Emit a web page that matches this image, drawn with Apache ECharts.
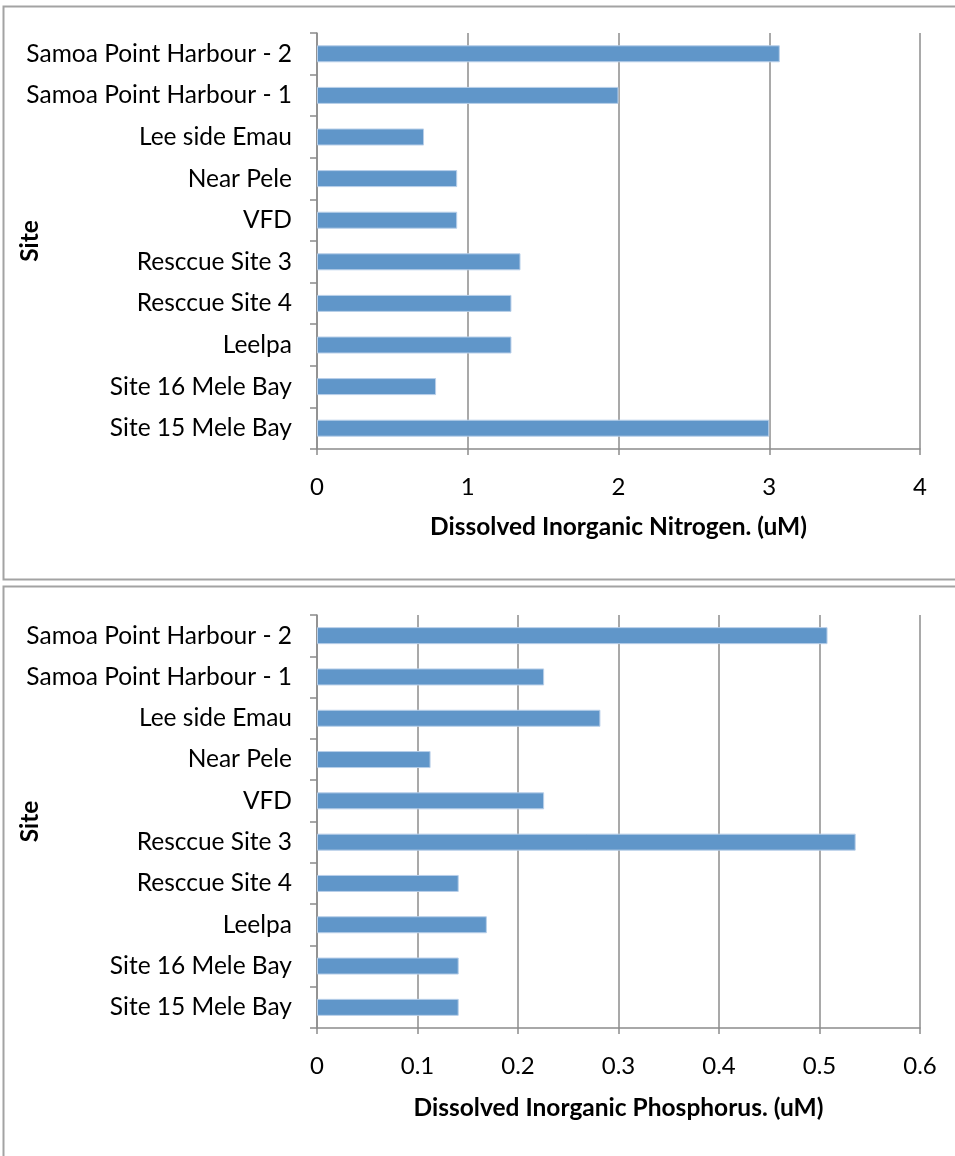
<!DOCTYPE html>
<html>
<head>
<meta charset="utf-8">
<title>Dissolved inorganic nutrients by site</title>
<script src="https://cdn.jsdelivr.net/npm/echarts@6/dist/echarts.min.js"></script>
<style>
  html, body { margin: 0; padding: 0; background: #ffffff; }
  #chart { width: 955px; height: 1156px; }
</style>
</head>
<body>
<div id="chart"></div>
<script>
// Sampling sites, listed top to bottom
const sites = [
  'Samoa Point Harbour - 2',
  'Samoa Point Harbour - 1',
  'Lee side Emau',
  'Near Pele',
  'VFD',
  'Resccue Site 3',
  'Resccue Site 4',
  'Leelpa',
  'Site 16 Mele Bay',
  'Site 15 Mele Bay'
];

// Dissolved inorganic nitrogen (uM)
const nitrogen = [3.07, 2.0, 0.71, 0.93, 0.93, 1.35, 1.29, 1.29, 0.79, 3.0];

// Dissolved inorganic phosphorus (uM)
const phosphorus = [0.508, 0.226, 0.282, 0.113, 0.226, 0.536, 0.141, 0.169, 0.141, 0.141];

const nitrogenTitle = 'Dissolved Inorganic Nitrogen. (uM)';
const phosphorusTitle = 'Dissolved Inorganic Phosphorus. (uM)';
const siteTitle = 'Site';

const FONT = 'Lato, "Open Sans", sans-serif';
const GRID_COLOR = '#8c8c8c';
const BAR_COLOR = '#6096c9';

function valueAxis(gridIndex, max, interval, title, gap) {
  return {
    type: 'value',
    gridIndex: gridIndex,
    min: 0,
    max: max,
    interval: interval,
    name: title,
    nameLocation: 'middle',
    nameGap: gap,
    nameMoveOverlap: false,
    nameTextStyle: { fontFamily: FONT, fontSize: 24.5, fontWeight: 'bold', color: '#000' },
    axisLine: { show: true, lineStyle: { color: GRID_COLOR, width: 1.5 } },
    axisTick: { show: true, length: 6, lineStyle: { color: GRID_COLOR, width: 1.5 } },
    axisLabel: { fontFamily: FONT, fontSize: 24, color: '#000', margin: 26 },
    splitLine: { show: true, lineStyle: { color: GRID_COLOR, width: 1.5 } }
  };
}

function categoryAxis(gridIndex) {
  return {
    type: 'category',
    gridIndex: gridIndex,
    data: sites,
    inverse: true,
    name: siteTitle,
    nameLocation: 'middle',
    nameRotate: 90,
    nameGap: 274,
    nameMoveOverlap: false,
    nameTextStyle: { fontFamily: FONT, fontSize: 24.5, fontWeight: 'bold', color: '#000' },
    axisLine: { show: true, lineStyle: { color: GRID_COLOR, width: 1.5 } },
    axisTick: { show: true, length: 7, alignWithLabel: false, lineStyle: { color: GRID_COLOR, width: 1.5 } },
    axisLabel: { fontFamily: FONT, fontSize: 24.5, color: '#000', margin: 25, interval: 0 },
    splitLine: { show: false }
  };
}

function barSeries(index, values) {
  return {
    type: 'bar',
    xAxisIndex: index,
    yAxisIndex: index,
    data: values,
    barWidth: 17,
    itemStyle: { color: BAR_COLOR, borderColor: '#b8cfe9', borderWidth: 1 },
    silent: true,
    animation: false
  };
}

const chart = echarts.init(document.getElementById('chart'), null, { renderer: 'canvas' });

chart.setOption({
  backgroundColor: '#ffffff',
  animation: false,
  graphic: [
    {
      type: 'rect', z: -10,
      shape: { x: 3.5, y: 6.5, width: 1000, height: 573 },
      style: { fill: 'none', stroke: '#a3a3a3', lineWidth: 2 }
    },
    {
      type: 'rect', z: -10,
      shape: { x: 3.5, y: 586.5, width: 1000, height: 600 },
      style: { fill: 'none', stroke: '#a3a3a3', lineWidth: 2 }
    }
  ],
  grid: [
    { left: 317, top: 33, width: 603, height: 416, containLabel: false, outerBoundsMode: 'none' },
    { left: 317, top: 615, width: 603, height: 413, containLabel: false, outerBoundsMode: 'none' }
  ],
  xAxis: [
    valueAxis(0, 4, 1, nitrogenTitle, 66),
    valueAxis(1, 0.6, 0.1, phosphorusTitle, 68)
  ],
  yAxis: [
    categoryAxis(0),
    categoryAxis(1)
  ],
  series: [
    barSeries(0, nitrogen),
    barSeries(1, phosphorus)
  ]
});
</script>
</body>
</html>
